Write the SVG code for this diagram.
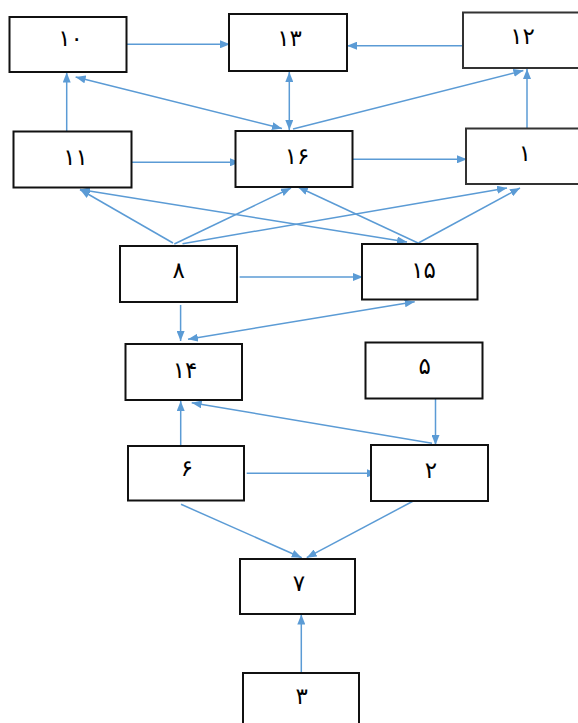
<svg xmlns="http://www.w3.org/2000/svg" width="578" height="723" viewBox="0 0 578 723">
<defs>
<marker id="ah" viewBox="0 0 10 8" refX="10" refY="4" markerUnits="userSpaceOnUse" markerWidth="10" markerHeight="8" orient="auto-start-reverse">
<path d="M0,0 L10,4 L0,8 z" fill="#5B9BD5"/>
</marker>
<style>
.box{fill:#fff;stroke:#111;stroke-width:2}
.lbl{font-family:"DejaVu Sans","Noto Sans",sans-serif;font-size:23px;fill:#000;text-anchor:middle}
.sp{letter-spacing:5px}
.c{stroke:#5B9BD5;stroke-width:1.5;fill:none;marker-end:url(#ah)}
.d{marker-start:url(#ah)}
</style>
</defs>
<rect width="578" height="723" fill="#fff"/>
<g id="connectors">
<path class="c" d="M126.5,44.3 L230,44.3"/>
<path class="c" d="M463,45.7 L347,45.7"/>
<path class="c" d="M66.7,131.5 L66.7,72.5"/>
<path class="c d" d="M75.6,77 L282,128.5"/>
<path class="c d" d="M289.3,72 L289.3,130"/>
<path class="c" d="M293,129 L523.4,70.5"/>
<path class="c" d="M527,128.5 L527,69"/>
<path class="c" d="M131.5,162.3 L240,162.3"/>
<path class="c" d="M352.5,159.3 L467,159.3"/>
<path class="c" d="M173,243 L80,189.5"/>
<path class="c d" d="M80,189.5 L407,242"/>
<path class="c" d="M174.3,244 L291,188"/>
<path class="c" d="M182.5,243.7 L507,188"/>
<path class="c" d="M418,243 L298,187"/>
<path class="c" d="M418.4,243 L520,188"/>
<path class="c" d="M239.6,277 L363,277"/>
<path class="c" d="M180.6,305 L180.6,341"/>
<path class="c d" d="M188,339.3 L414.7,301.7"/>
<path class="c" d="M432,443.3 L191.7,402.7"/>
<path class="c" d="M180.7,446 L180.7,401"/>
<path class="c" d="M435.5,398.5 L435.5,445"/>
<path class="c" d="M246.7,473.3 L377,473.3"/>
<path class="c" d="M181,504.3 L301.7,557.7"/>
<path class="c" d="M413.3,501 L306.7,557.7"/>
<path class="c" d="M301.3,672.7 L301.3,614.5"/>
</g>
<g id="n10"><rect class="box" x="9.5" y="17" width="117" height="55"/><text class="lbl sp" x="70.5" y="46">۱۰</text></g>
<g id="n13"><rect class="box" x="229" y="14" width="118" height="57"/><text class="lbl sp" x="289.5" y="46">۱۳</text></g>
<g id="n12"><rect class="box" x="463" y="12.5" width="117" height="55.5" style="stroke:#333"/><text class="lbl sp" x="522.5" y="44">۱۲</text></g>
<g id="n11"><rect class="box" x="13.5" y="131.5" width="118" height="56"/><text class="lbl sp" x="75.5" y="165">۱۱</text></g>
<g id="n16"><rect class="box" x="235.5" y="131" width="117" height="56"/><text class="lbl sp" x="297" y="164">۱۶</text></g>
<g id="n1"><rect class="box" x="466" y="128.5" width="117" height="55.5" style="stroke:#333"/><text class="lbl" x="525" y="161">۱</text></g>
<g id="n8"><rect class="box" x="120" y="246" width="117" height="56"/><text class="lbl" x="178.7" y="278">۸</text></g>
<g id="n15"><rect class="box" x="362" y="244" width="115.5" height="55.5"/><text class="lbl sp" x="423.5" y="277.5">۱۵</text></g>
<g id="n14"><rect class="box" x="125.5" y="344" width="116.5" height="56"/><text class="lbl sp" x="185" y="377.5">۱۴</text></g>
<g id="n5"><rect class="box" x="365.5" y="342.5" width="117" height="56"/><text class="lbl" x="424.8" y="374">۵</text></g>
<g id="n6"><rect class="box" x="128" y="446" width="116" height="54.5"/><text class="lbl" x="187" y="476">۶</text></g>
<g id="n2"><rect class="box" x="371" y="445" width="117" height="56"/><text class="lbl" x="431" y="477.5">۲</text></g>
<g id="n7"><rect class="box" x="240" y="559" width="115" height="55"/><text class="lbl" x="299" y="591">۷</text></g>
<g id="n3"><rect class="box" x="243" y="673" width="116" height="56"/><text class="lbl" x="301.7" y="704">۳</text></g>
</svg>
